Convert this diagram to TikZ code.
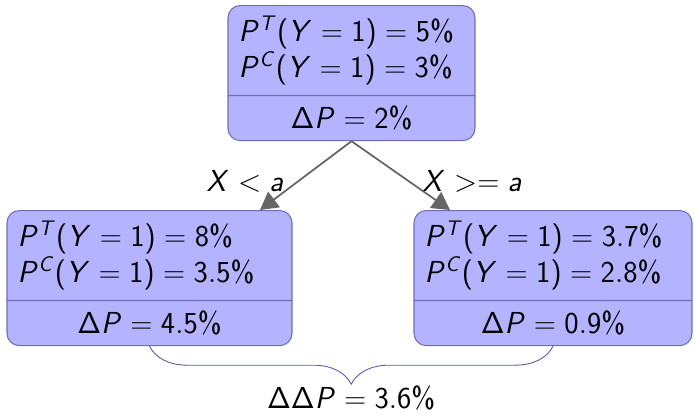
\documentclass[tikz,border=0pt]{standalone}
\usepackage{amsmath}
\usepackage{xcolor}
\DeclareSymbolFont{operators}{OT1}{cmss}{m}{n}
\DeclareSymbolFont{sfslanted}{OT1}{cmss}{m}{sl}
\DeclareMathSymbol{P}{\mathalpha}{sfslanted}{`P}
\DeclareMathSymbol{T}{\mathalpha}{sfslanted}{`T}
\DeclareMathSymbol{C}{\mathalpha}{sfslanted}{`C}
\DeclareMathSymbol{Y}{\mathalpha}{sfslanted}{`Y}
\DeclareMathSymbol{X}{\mathalpha}{sfslanted}{`X}
\DeclareMathSymbol{a}{\mathalpha}{sfslanted}{`a}
\definecolor{boxfill}{HTML}{B3B3FF}
\definecolor{boxline}{HTML}{6E6EB4}
\definecolor{bracecol}{HTML}{5A5AA0}
\definecolor{arrowgray}{HTML}{666666}
\usepackage{tikz}
\usetikzlibrary{positioning,arrows.meta,shapes.multipart,decorations.pathreplacing}

\begin{document}
\begin{tikzpicture}[
  font=\fontsize{16.9}{20.5}\selectfont,
  splitbox/.style={
    draw=boxline, line width=0.6pt, rounded corners=7pt,
    fill=boxfill, rectangle split, rectangle split parts=2,
    rectangle split part align={left,center},
    align=left, inner xsep=6pt, inner ysep=5.6pt,
  },
  branch/.style={draw=arrowgray, line width=1pt,
    -{Triangle[length=10pt,width=11pt]}},
  cond/.style={inner sep=2pt},
]

% === BOUNDING BOX ===
\useasboundingbox (0,0) rectangle (13.9,8.3);

% === ROOT ===
\node[splitbox, anchor=north, minimum width=4.94cm] (root) at (7.03,8.2)
  {$P^T(Y=1)=5\%$\\$P^C(Y=1)=3\%$
   \nodepart{second}$\Delta P=2\%$};

% === CHILDREN ===
\node[splitbox, anchor=north, minimum width=5.7cm] (lowx) at (2.99,4.1)
  {$P^T(Y=1)=8\%$\\$P^C(Y=1)=3.5\%$
   \nodepart{second}$\Delta P=4.5\%$};
\node[splitbox, anchor=north, minimum width=5.56cm] (highx) at (11.06,4.1)
  {$P^T(Y=1)=3.7\%$\\$P^C(Y=1)=2.8\%$
   \nodepart{second}$\Delta P=0.9\%$};

% === SPLITS ===
\draw[branch] (root.south) -- (lowx.north -| 5.2,0)
  node[cond, midway, left=10pt, yshift=-3pt] (condlo) {$X<a$};
\draw[branch] (root.south) -- (highx.north -| 9.0,0)
  node[cond, midway, right=10pt, yshift=-3pt] (condhi) {$X>=a$};

% === DIFFERENCE ===
\draw[bracecol, line width=0.5pt,
  decorate, decoration={brace, mirror, amplitude=0.76cm}]
  (lowx.south) -- (highx.south)
  coordinate[midway, yshift=-0.76cm] (tip);
\node[below=-2.5pt of tip] (diff) {$\Delta\Delta P=3.6\%$};

\end{tikzpicture}
\end{document}
